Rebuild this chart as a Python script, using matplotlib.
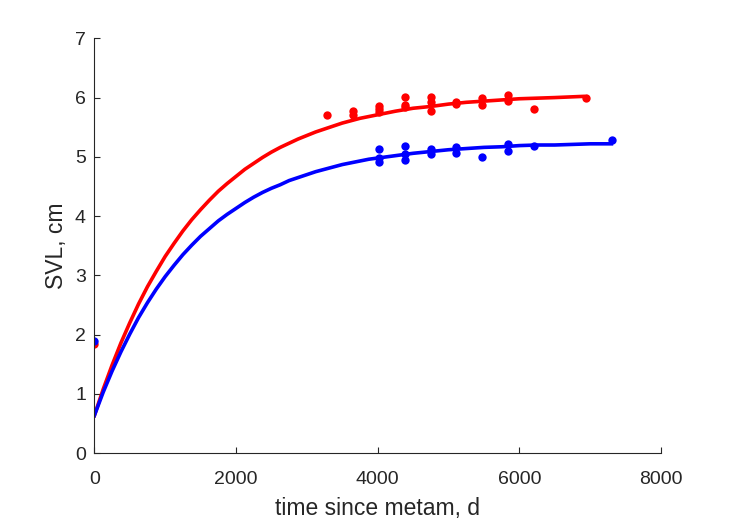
import matplotlib
matplotlib.use("Agg")
import matplotlib.pyplot as plt

plt.rcParams['font.family'] = ['Liberation Sans', 'DejaVu Sans']

# observed SVL (cm) vs time since metamorphosis (d)
red_t = [0, 3287, 3652, 3652, 4017, 4017, 4017, 4383, 4383, 4383,
         4748, 4748, 4748, 5113, 5113, 5479, 5479, 5844, 5844, 6209, 6940]
red_svl = [1.85, 5.70, 5.78, 5.70, 5.85, 5.75, 5.80, 6.01, 5.84, 5.88,
           6.01, 5.78, 5.92, 5.89, 5.92, 5.99, 5.87, 6.05, 5.95, 5.80, 6.00]

blue_t = [0, 4017, 4017, 4017, 4383, 4383, 4383, 4748, 4748,
          5113, 5113, 5479, 5844, 5844, 6209, 7305]
blue_svl = [1.90, 5.14, 4.91, 4.98, 5.18, 4.95, 5.05, 5.13, 5.05,
            5.16, 5.06, 4.99, 5.21, 5.10, 5.19, 5.28]

# fitted growth curves
red_fit_t = [0, 125, 250, 375, 500, 625, 750, 875, 1000, 1125, 1250, 1375,
             1500, 1625, 1750, 1875, 2000, 2125, 2250, 2375, 2500, 2625,
             2750, 2875, 3000, 3125, 3250, 3375, 3500, 3625, 3750, 3875,
             4000, 4250, 4500, 4750, 5000, 5250, 5500, 5750, 6000, 6250,
             6500, 6900]
red_fit = [0.635, 1.08, 1.485, 1.86, 2.20, 2.52, 2.81, 3.07, 3.32, 3.54, 3.75, 3.94,
           4.11, 4.27, 4.42, 4.55, 4.67, 4.79, 4.89, 4.99, 5.08, 5.16,
           5.23, 5.30, 5.36, 5.42, 5.47, 5.52, 5.57, 5.61, 5.65, 5.68,
           5.71, 5.77, 5.82, 5.85, 5.89, 5.92, 5.94, 5.96, 5.98, 5.99,
           6.00, 6.02]

blue_fit_t = [0, 125, 250, 375, 500, 625, 750, 875, 1000, 1125, 1250, 1375,
              1500, 1625, 1750, 1875, 2000, 2125, 2250, 2375, 2500, 2625,
              2750, 2875, 3000, 3125, 3250, 3375, 3500, 3625, 3750, 3875,
              4000, 4250, 4500, 4750, 5000, 5250, 5500, 5750, 6000, 6250,
              6500, 6750, 7000, 7300]
blue_fit = [0.635, 1.03, 1.385, 1.71, 2.01, 2.29, 2.54, 2.77, 2.98, 3.17, 3.35, 3.51,
            3.66, 3.79, 3.92, 4.03, 4.13, 4.23, 4.32, 4.40, 4.47, 4.53,
            4.60, 4.65, 4.70, 4.75, 4.79, 4.83, 4.87, 4.90, 4.93, 4.96,
            4.98, 5.02, 5.06, 5.09, 5.12, 5.14, 5.16, 5.17, 5.19, 5.20,
            5.20, 5.21, 5.22, 5.22]

fig = plt.figure(figsize=(7.29, 5.21), dpi=100)
ax = fig.add_axes([0.1294, 0.130, 0.7773, 0.7965])

ax.plot(red_t, red_svl, 'o', color='#ff0000', ms=6, mec='none')
ax.plot(blue_t, blue_svl, 'o', color='#0000ff', ms=6, mec='none')
ax.plot(red_fit_t, red_fit, '-', color='#ff0000', lw=2.6, solid_joinstyle='round')
ax.plot(blue_fit_t, blue_fit, '-', color='#0000ff', lw=2.6, solid_joinstyle='round')

ax.set_xlim(0, 8000)
ax.set_ylim(0, 7)
ax.set_xticks([0, 2000, 4000, 6000, 8000])
ax.set_yticks(range(0, 8))

axcol = '#262626'
for side in ['top', 'right']:
    ax.spines[side].set_visible(False)
for side in ['left', 'bottom']:
    ax.spines[side].set_color(axcol)
    ax.spines[side].set_linewidth(0.8)
ax.tick_params(direction='in', length=4.5, width=0.8, color=axcol,
               labelcolor=axcol, labelsize=14)
ax.tick_params(axis='x', pad=13)
ax.tick_params(axis='y', pad=6)

ax.set_xlabel('time since metam, d', fontsize=16.5, color=axcol, labelpad=6)
ax.set_ylabel('SVL, cm', fontsize=16.5, color=axcol, labelpad=5)

fig.savefig('out.png', dpi=100)
